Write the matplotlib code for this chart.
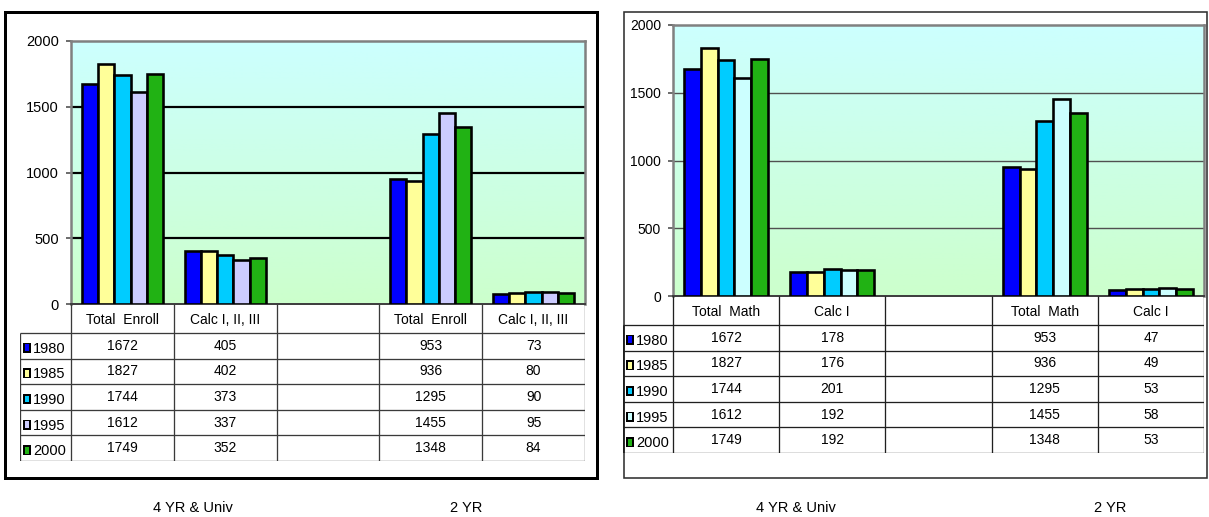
import matplotlib
matplotlib.use("Agg")
import matplotlib.pyplot as plt
import numpy as np
from matplotlib.colors import LinearSegmentedColormap
from matplotlib.patches import Rectangle

plt.rcParams["font.family"] = ["Liberation Sans", "DejaVu Sans"]

# ------------------------------------------------------------------
# Data
# ------------------------------------------------------------------
YEARS = ["1980", "1985", "1990", "1995", "2000"]

ENROLL_CATS = ["Total  Enroll", "Calc I, II, III", "", "Total  Enroll", "Calc I, II, III"]
ENROLL_4YR_TOTAL = [1672, 1827, 1744, 1612, 1749]
ENROLL_4YR_CALC = [405, 402, 373, 337, 352]
ENROLL_2YR_TOTAL = [953, 936, 1295, 1455, 1348]
ENROLL_2YR_CALC = [73, 80, 90, 95, 84]

MATH_CATS = ["Total  Math", "Calc I", "", "Total  Math", "Calc I"]
MATH_4YR_TOTAL = [1672, 1827, 1744, 1612, 1749]
MATH_4YR_CALC = [178, 176, 201, 192, 192]
MATH_2YR_TOTAL = [953, 936, 1295, 1455, 1348]
MATH_2YR_CALC = [47, 49, 53, 58, 53]

GROUP_LABELS = ["4 YR & Univ", "2 YR"]

COLORS_LEFT = ["#0000FF", "#FFFF99", "#00CCFF", "#CCCCFF", "#21B214"]
COLORS_RIGHT = ["#0000FF", "#FFFF99", "#00CCFF", "#CCFFFF", "#21B214"]

W, H = 1209, 517
DPI = 100


def fx(x):
    return x / W


def fy(y):
    return 1 - y / H


def px_axes(fig, x0, y0, x1, y1):
    return fig.add_axes([fx(x0), fy(y1), (x1 - x0) / W, (y1 - y0) / H])


def pt(px):
    return px * 72 / DPI


def series_by_year(cols):
    # cols: list of per-category lists (None for the blank category)
    out = []
    for k in range(len(YEARS)):
        out.append([c[k] if c is not None else None for c in cols])
    return out


def draw_chart(fig, spec):
    cats = spec["cats"]
    cols = spec["cols"]
    colors = spec["colors"]
    ncat = len(cats)
    x0, y0, x1, y1 = spec["plot"]

    # outer frame
    fx0, fy0, fx1, fy1 = spec["frame"]
    fig.add_artist(Rectangle((fx(fx0), fy(fy1)), (fx1 - fx0) / W, (fy1 - fy0) / H,
                             transform=fig.transFigure, fill=False,
                             edgecolor=spec["frame_color"], lw=pt(spec["frame_lw"]),
                             zorder=0))

    # plot area with cyan -> green wash
    ax = px_axes(fig, x0, y0, x1, y1)
    cmap = LinearSegmentedColormap.from_list("wash", ["#CCFFFF", "#CCFFCC"])
    ax.imshow(np.linspace(0, 1, 256).reshape(-1, 1), cmap=cmap, aspect="auto",
              extent=[0, ncat, 0, 2000], origin="upper", zorder=0)
    ax.set_xlim(0, ncat)
    ax.set_ylim(0, 2000)
    ax.set_yticks([0, 500, 1000, 1500, 2000])
    ax.set_xticks([])
    for v in (500, 1000, 1500):
        ax.axhline(v, color=spec["grid_color"], lw=pt(spec["grid_lw"]), zorder=1)

    bw = 0.158
    by_year = series_by_year(cols)
    for k, vals in enumerate(by_year):
        xs = [i + 0.5 + (k - 2) * bw for i in range(ncat) if vals[i] is not None]
        hs = [v for v in vals if v is not None]
        ax.bar(xs, hs, width=bw, color=colors[k], edgecolor="black",
               lw=pt(2.6), zorder=3)

    for s in ("top", "left", "right"):
        ax.spines[s].set_color("#808080")
        ax.spines[s].set_linewidth(pt(2.5))
    ax.spines["bottom"].set_color("#404040")
    ax.spines["bottom"].set_linewidth(pt(2))
    ax.tick_params(axis="y", length=pt(5), width=pt(1.5), color="#404040",
                   labelsize=spec["ylab_size"], pad=pt(7))

    # data table beneath the plot
    leg_left = spec["leg_left"]
    hdr_bot = spec["hdr_bot"]
    tbl_bot = spec["tbl_bot"]
    cat_w = (x1 - x0) / ncat
    tax = px_axes(fig, leg_left, y1, x1, tbl_bot)
    tax.set_xlim(-(x0 - leg_left) / cat_w, ncat)
    tax.set_ylim(tbl_bot - y1, 0)
    tax.axis("off")
    hdr_h = hdr_bot - y1
    row_h = (tbl_bot - hdr_bot) / len(YEARS)
    lx = -(x0 - leg_left) / cat_w
    lc = spec["line_color"]
    lw = pt(1.3)

    tax.vlines(range(ncat + 1), 0, tbl_bot - y1, color=lc, lw=lw)
    tax.vlines(lx, hdr_h, tbl_bot - y1, color=lc, lw=pt(spec["leg_lw"]))
    for r in range(len(YEARS) + 1):
        tax.hlines(hdr_h + r * row_h, lx, ncat, color=lc, lw=lw)

    for i, name in enumerate(cats):
        tax.text(i + 0.5, hdr_h / 2 + 1, name, ha="center", va="center",
                 fontsize=10)

    for k, vals in enumerate(by_year):
        yc = hdr_h + (k + 0.5) * row_h
        for i, v in enumerate(vals):
            if v is not None:
                tax.text(i + 0.5, yc, str(v), ha="center", va="center",
                         fontsize=10)
        # legend key: black box with the series colour inside
        sw, sh = 8 / cat_w, 10
        sx = lx + 3 / cat_w
        tax.add_patch(Rectangle((sx, yc - sh / 2 + 2), sw, sh, facecolor="black",
                                edgecolor="none", zorder=3))
        tax.add_patch(Rectangle((sx + 1.6 / cat_w, yc - sh / 2 + 3.6),
                                sw - 3.2 / cat_w, sh - 3.2,
                                facecolor=colors[k], edgecolor="none", zorder=4))
        tax.text(sx + 10 / cat_w, yc + 3, YEARS[k], ha="left", va="center",
                 fontsize=10.5)

    for label, cx in zip(GROUP_LABELS, spec["group_x"]):
        fig.text(fx(cx), fy(508), label, ha="center", va="center", fontsize=10.5)


fig = plt.figure(figsize=(W / DPI, H / DPI), dpi=DPI, facecolor="white")

draw_chart(fig, {
    "cats": ENROLL_CATS,
    "cols": [ENROLL_4YR_TOTAL, ENROLL_4YR_CALC, None, ENROLL_2YR_TOTAL, ENROLL_2YR_CALC],
    "colors": COLORS_LEFT,
    "frame": (5, 12, 597, 478), "frame_color": "black", "frame_lw": 3,
    "plot": (71, 41, 585, 304),
    "grid_color": "black", "grid_lw": 2.2,
    "ylab_size": 10.5,
    "leg_left": 20, "hdr_bot": 333, "tbl_bot": 461,
    "line_color": "#3a3a3a", "leg_lw": 1.3,
    "group_x": (193, 466),
})

draw_chart(fig, {
    "cats": MATH_CATS,
    "cols": [MATH_4YR_TOTAL, MATH_4YR_CALC, None, MATH_2YR_TOTAL, MATH_2YR_CALC],
    "colors": COLORS_RIGHT,
    "frame": (624, 12, 1207, 478), "frame_color": "#303030", "frame_lw": 1.6,
    "plot": (673, 25, 1204, 296),
    "grid_color": "#505050", "grid_lw": 1.4,
    "ylab_size": 10,
    "leg_left": 623, "hdr_bot": 325, "tbl_bot": 453,
    "line_color": "#202020", "leg_lw": 2.5,
    "group_x": (796, 1110),
})

fig.savefig("out.png", dpi=DPI, facecolor="white")
